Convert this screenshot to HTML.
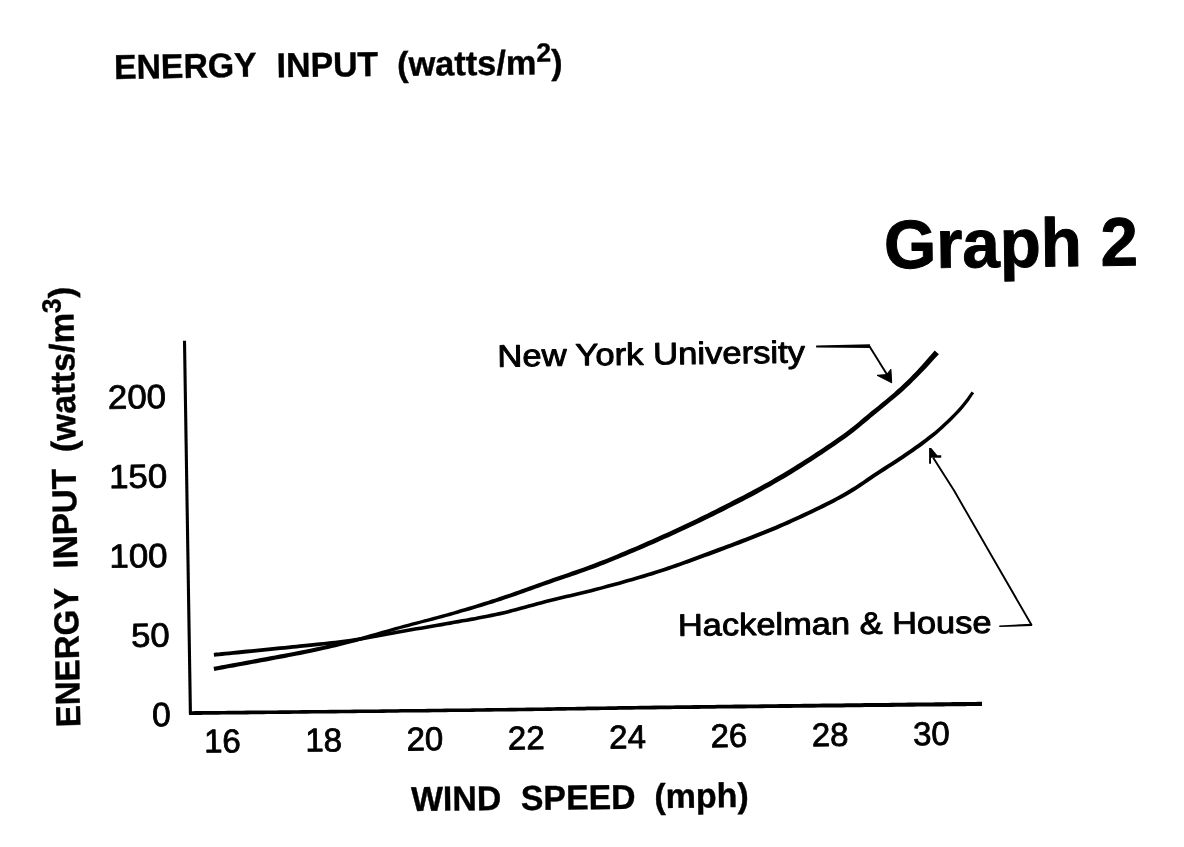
<!DOCTYPE html>
<html><head><meta charset="utf-8"><title>Graph 2</title>
<style>
html,body{margin:0;padding:0;background:#fff;}
svg{display:block;}
text{font-family:"Liberation Sans", Arial, Helvetica, sans-serif;fill:#000;}
</style></head><body>
<svg width="1184" height="847" viewBox="0 0 1184 847">
<rect width="1184" height="847" fill="#fff"/>
<path d="M184.5 340.7 L190.4 713" fill="none" stroke="#000" stroke-width="3.1"/>
<path d="M188.9 715.0 L191.0 715.0 L193.2 715.0 L195.5 714.9 L197.9 714.9 L200.5 714.9 L203.2 714.8 L205.9 714.8 L208.8 714.8 L211.8 714.7 L214.9 714.7 L218.1 714.7 L221.4 714.6 L224.8 714.6 L228.3 714.6 L231.8 714.5 L235.4 714.5 L239.2 714.4 L243.0 714.4 L246.8 714.4 L250.8 714.3 L254.8 714.3 L258.9 714.2 L263.0 714.2 L267.2 714.1 L271.5 714.1 L275.8 714.0 L280.1 714.0 L284.5 713.9 L289.0 713.9 L293.5 713.8 L298.0 713.8 L302.6 713.7 L307.2 713.7 L311.8 713.6 L316.5 713.6 L321.2 713.5 L325.9 713.5 L330.6 713.4 L335.3 713.4 L340.1 713.3 L344.8 713.3 L349.6 713.2 L354.3 713.2 L359.1 713.1 L363.8 713.1 L368.6 713.0 L373.3 713.0 L378.1 712.9 L382.8 712.9 L387.5 712.8 L392.1 712.7 L396.8 712.7 L401.4 712.6 L406.0 712.6 L410.6 712.5 L415.1 712.5 L419.6 712.5 L424.0 712.4 L428.4 712.4 L432.7 712.3 L437.0 712.3 L441.3 712.2 L445.4 712.2 L449.6 712.1 L453.6 712.1 L457.6 712.1 L461.5 712.0 L465.4 712.0 L469.1 711.9 L472.8 711.9 L476.5 711.8 L480.0 711.8 L483.4 711.8 L486.8 711.7 L490.0 711.7 L495.3 711.6 L500.4 711.6 L505.3 711.5 L510.0 711.5 L514.6 711.4 L519.1 711.3 L523.4 711.3 L527.6 711.2 L531.7 711.2 L535.6 711.1 L539.5 711.1 L543.3 711.0 L547.0 711.0 L550.6 710.9 L554.1 710.8 L557.6 710.8 L561.0 710.7 L564.4 710.7 L567.8 710.6 L571.1 710.6 L574.4 710.5 L577.7 710.5 L581.0 710.4 L584.3 710.4 L587.6 710.3 L591.0 710.3 L594.3 710.2 L597.8 710.2 L601.2 710.1 L604.7 710.1 L608.3 710.0 L612.0 709.9 L615.7 709.9 L619.6 709.8 L623.5 709.8 L627.5 709.7 L631.7 709.7 L635.9 709.6 L640.3 709.6 L644.9 709.5 L649.6 709.4 L654.4 709.4 L659.5 709.3 L664.7 709.2 L670.0 709.2 L673.2 709.1 L676.5 709.1 L679.9 709.1 L683.4 709.0 L686.9 709.0 L690.5 709.0 L694.3 708.9 L698.0 708.9 L701.9 708.8 L705.8 708.8 L709.8 708.7 L713.9 708.7 L718.0 708.6 L722.2 708.6 L726.4 708.6 L730.7 708.5 L735.0 708.5 L739.4 708.4 L743.8 708.4 L748.3 708.3 L752.8 708.3 L757.3 708.2 L761.9 708.2 L766.5 708.1 L771.1 708.1 L775.8 708.0 L780.5 708.0 L785.2 707.9 L789.9 707.9 L794.6 707.8 L799.3 707.8 L804.1 707.7 L808.8 707.7 L813.6 707.7 L818.3 707.6 L823.1 707.6 L827.8 707.5 L832.6 707.5 L837.3 707.4 L842.0 707.4 L846.7 707.3 L851.3 707.3 L856.0 707.2 L860.6 707.2 L865.2 707.1 L869.7 707.1 L874.3 707.1 L878.7 707.0 L883.2 707.0 L887.6 706.9 L891.9 706.9 L896.2 706.8 L900.5 706.8 L904.7 706.8 L908.8 706.7 L912.9 706.7 L917.0 706.6 L920.9 706.6 L924.8 706.6 L928.6 706.5 L932.4 706.5 L936.0 706.5 L939.6 706.4 L943.1 706.4 L946.5 706.3 L949.9 706.3 L953.1 706.3 L956.3 706.3 L959.3 706.2 L962.3 706.2 L965.1 706.2 L967.9 706.1 L970.5 706.1 L973.1 706.1 L975.5 706.1 L977.8 706.0 L980.0 706.0 L982.0 706.0 L982.0 701.8 L979.9 701.8 L977.7 701.8 L975.4 701.9 L973.0 701.9 L970.5 701.9 L967.8 702.0 L965.1 702.0 L962.2 702.0 L959.3 702.1 L956.2 702.1 L953.1 702.1 L949.8 702.2 L946.5 702.2 L943.1 702.2 L939.6 702.3 L936.0 702.3 L932.3 702.4 L928.6 702.4 L924.8 702.5 L920.9 702.5 L916.9 702.5 L912.9 702.6 L908.8 702.6 L904.7 702.7 L900.5 702.7 L896.2 702.8 L891.9 702.8 L887.5 702.9 L883.1 702.9 L878.7 703.0 L874.2 703.0 L869.7 703.1 L865.1 703.1 L860.5 703.2 L855.9 703.2 L851.3 703.3 L846.6 703.3 L841.9 703.4 L837.2 703.5 L832.5 703.5 L827.8 703.6 L823.0 703.6 L818.3 703.7 L813.5 703.7 L808.8 703.8 L804.0 703.8 L799.3 703.9 L794.6 703.9 L789.8 704.0 L785.1 704.1 L780.4 704.1 L775.8 704.2 L771.1 704.2 L766.5 704.3 L761.9 704.3 L757.3 704.4 L752.8 704.4 L748.2 704.5 L743.8 704.5 L739.4 704.6 L735.0 704.6 L730.6 704.7 L726.4 704.7 L722.1 704.8 L718.0 704.8 L713.8 704.9 L709.8 704.9 L705.8 705.0 L701.9 705.0 L698.0 705.1 L694.2 705.1 L690.5 705.2 L686.9 705.2 L683.3 705.2 L679.9 705.3 L676.5 705.3 L673.2 705.4 L670.0 705.4 L664.6 705.5 L659.4 705.6 L654.4 705.6 L649.5 705.7 L644.8 705.7 L640.3 705.8 L635.9 705.9 L631.6 705.9 L627.5 706.0 L623.4 706.1 L619.5 706.1 L615.7 706.2 L611.9 706.2 L608.3 706.3 L604.7 706.4 L601.2 706.4 L597.7 706.5 L594.3 706.5 L590.9 706.6 L587.6 706.6 L584.2 706.7 L580.9 706.7 L577.6 706.8 L574.3 706.9 L571.0 706.9 L567.7 707.0 L564.4 707.0 L561.0 707.1 L557.5 707.1 L554.1 707.2 L550.5 707.2 L546.9 707.3 L543.2 707.4 L539.4 707.4 L535.6 707.5 L531.6 707.5 L527.5 707.6 L523.3 707.7 L519.0 707.7 L514.6 707.8 L510.0 707.8 L505.2 707.9 L500.3 708.0 L495.2 708.0 L490.0 708.1 L486.7 708.1 L483.4 708.2 L479.9 708.2 L476.4 708.3 L472.8 708.3 L469.1 708.4 L465.3 708.4 L461.5 708.5 L457.6 708.5 L453.6 708.5 L449.5 708.6 L445.4 708.6 L441.2 708.7 L437.0 708.7 L432.7 708.8 L428.3 708.8 L424.0 708.9 L419.5 708.9 L415.0 709.0 L410.5 709.0 L406.0 709.1 L401.4 709.1 L396.8 709.2 L392.1 709.2 L387.4 709.3 L382.7 709.3 L378.0 709.4 L373.3 709.4 L368.6 709.5 L363.8 709.5 L359.1 709.6 L354.3 709.6 L349.5 709.7 L344.8 709.7 L340.0 709.7 L335.3 709.8 L330.5 709.8 L325.8 709.9 L321.1 709.9 L316.4 710.0 L311.8 710.0 L307.2 710.1 L302.6 710.1 L298.0 710.2 L293.5 710.2 L289.0 710.2 L284.5 710.3 L280.1 710.3 L275.7 710.4 L271.4 710.4 L267.2 710.4 L263.0 710.5 L258.8 710.5 L254.8 710.6 L250.7 710.6 L246.8 710.6 L242.9 710.7 L239.1 710.7 L235.4 710.8 L231.8 710.8 L228.2 710.8 L224.7 710.9 L221.4 710.9 L218.1 710.9 L214.9 710.9 L211.8 711.0 L208.8 711.0 L205.9 711.0 L203.1 711.1 L200.5 711.1 L197.9 711.1 L195.5 711.1 L193.1 711.2 L191.0 711.2 L188.9 711.2Z" fill="#000"/>
<path d="M214.3 671.0 L216.6 670.5 L219.3 670.0 L222.4 669.5 L225.8 668.8 L229.6 668.1 L233.6 667.4 L237.9 666.6 L242.4 665.8 L247.0 664.9 L251.8 664.1 L256.6 663.2 L261.4 662.3 L266.3 661.4 L271.1 660.5 L275.9 659.6 L280.5 658.7 L284.9 657.9 L289.2 657.1 L293.2 656.3 L297.0 655.5 L300.4 654.9 L305.9 653.7 L310.9 652.7 L315.6 651.7 L320.0 650.7 L324.1 649.8 L328.1 648.9 L331.9 648.1 L335.7 647.2 L339.4 646.3 L343.2 645.3 L347.1 644.3 L351.2 643.3 L355.3 642.2 L359.5 641.1 L363.6 639.9 L367.7 638.7 L371.8 637.5 L375.9 636.3 L380.0 635.1 L384.0 633.9 L388.1 632.6 L392.2 631.4 L396.3 630.3 L400.4 629.1 L404.6 628.0 L408.7 626.9 L412.9 625.8 L417.0 624.7 L421.2 623.6 L425.4 622.6 L429.6 621.5 L433.7 620.4 L437.9 619.3 L442.1 618.2 L446.3 617.1 L450.5 615.9 L454.3 614.8 L458.2 613.7 L462.0 612.6 L465.9 611.5 L469.8 610.4 L473.6 609.2 L477.5 608.1 L481.3 606.9 L485.2 605.8 L489.0 604.6 L492.9 603.4 L496.8 602.1 L500.6 600.9 L504.5 599.6 L508.3 598.3 L512.2 597.0 L516.1 595.7 L519.9 594.3 L523.8 593.0 L527.6 591.6 L531.5 590.2 L535.3 588.8 L539.2 587.5 L543.0 586.1 L546.9 584.7 L550.7 583.4 L554.5 582.1 L558.3 580.8 L562.0 579.5 L565.7 578.2 L569.5 577.0 L573.2 575.7 L577.0 574.4 L580.8 573.1 L584.6 571.8 L588.5 570.3 L592.5 568.9 L596.6 567.4 L600.8 565.8 L604.3 564.4 L607.8 563.0 L611.5 561.5 L615.1 560.0 L618.9 558.5 L622.6 557.0 L626.4 555.4 L630.3 553.8 L634.1 552.2 L638.0 550.5 L641.8 548.9 L645.7 547.2 L649.5 545.5 L653.4 543.9 L657.2 542.2 L660.9 540.5 L664.7 538.8 L668.5 537.2 L672.2 535.5 L676.0 533.7 L679.7 532.0 L683.5 530.3 L687.3 528.5 L691.0 526.8 L694.8 525.0 L698.5 523.2 L702.3 521.4 L706.1 519.6 L709.8 517.8 L713.6 515.9 L717.3 514.1 L721.1 512.2 L724.6 510.4 L728.2 508.6 L731.7 506.8 L735.2 505.0 L738.8 503.2 L742.3 501.4 L745.9 499.6 L749.4 497.7 L752.9 495.9 L756.5 494.0 L760.0 492.1 L763.5 490.1 L767.1 488.1 L770.6 486.2 L774.2 484.1 L777.7 482.1 L781.2 480.0 L784.8 477.9 L788.5 475.7 L792.2 473.4 L796.0 471.0 L799.8 468.7 L803.6 466.2 L807.4 463.8 L811.1 461.4 L814.9 459.0 L818.6 456.5 L822.2 454.2 L825.7 451.8 L829.1 449.5 L832.4 447.3 L835.5 445.2 L838.5 443.1 L841.4 441.1 L845.8 438.0 L849.8 435.0 L853.4 432.2 L856.8 429.6 L859.9 427.0 L862.8 424.6 L865.6 422.2 L868.4 419.9 L871.1 417.5 L874.0 415.2 L877.6 412.3 L881.0 409.5 L884.4 406.7 L887.7 404.0 L890.9 401.3 L894.0 398.8 L897.0 396.2 L900.0 393.7 L903.6 390.4 L907.0 387.3 L910.3 384.2 L913.4 381.1 L916.5 378.0 L919.7 374.8 L922.6 371.8 L925.8 368.4 L929.0 365.0 L932.1 361.6 L934.8 358.6 L937.2 356.0 L938.9 354.2 L934.7 350.4 L933.0 352.4 L930.8 355.0 L928.1 358.1 L925.1 361.5 L922.0 365.0 L919.0 368.3 L916.1 371.4 L913.0 374.6 L910.0 377.7 L906.9 380.7 L903.7 383.8 L900.4 386.9 L896.8 390.1 L894.0 392.7 L891.0 395.2 L888.0 397.8 L884.8 400.4 L881.5 403.1 L878.1 405.9 L874.6 408.7 L871.0 411.6 L868.2 414.0 L865.4 416.3 L862.6 418.6 L859.8 421.0 L856.9 423.4 L853.8 425.9 L850.5 428.5 L847.0 431.3 L843.0 434.2 L838.6 437.3 L835.8 439.2 L832.9 441.3 L829.7 443.4 L826.5 445.6 L823.0 447.9 L819.5 450.2 L815.9 452.5 L812.3 454.9 L808.5 457.4 L804.8 459.8 L801.0 462.2 L797.2 464.6 L793.4 466.9 L789.7 469.2 L786.0 471.5 L782.3 473.7 L778.8 475.8 L775.2 477.8 L771.7 479.9 L768.2 481.9 L764.7 483.8 L761.2 485.8 L757.6 487.7 L754.1 489.6 L750.6 491.5 L747.1 493.3 L743.6 495.2 L740.0 497.0 L736.5 498.8 L733.0 500.6 L729.5 502.4 L725.9 504.2 L722.4 506.0 L718.9 507.8 L715.2 509.7 L711.4 511.6 L707.7 513.4 L703.9 515.3 L700.2 517.1 L696.5 518.9 L692.7 520.7 L689.0 522.5 L685.2 524.2 L681.5 526.0 L677.8 527.7 L674.0 529.5 L670.3 531.2 L666.5 532.9 L662.8 534.6 L659.1 536.3 L655.3 538.0 L651.5 539.7 L647.7 541.3 L643.9 543.0 L640.0 544.7 L636.2 546.4 L632.3 548.0 L628.5 549.6 L624.7 551.2 L620.9 552.8 L617.2 554.4 L613.5 555.9 L609.8 557.4 L606.2 558.9 L602.7 560.3 L599.2 561.6 L595.0 563.3 L591.0 564.8 L587.0 566.3 L583.1 567.7 L579.3 569.0 L575.6 570.3 L571.8 571.6 L568.1 572.9 L564.4 574.2 L560.6 575.5 L556.9 576.8 L553.1 578.1 L549.3 579.4 L545.5 580.8 L541.6 582.2 L537.8 583.6 L533.9 585.0 L530.1 586.3 L526.2 587.7 L522.4 589.1 L518.6 590.5 L514.7 591.8 L510.9 593.2 L507.0 594.5 L503.2 595.8 L499.4 597.1 L495.5 598.4 L491.7 599.6 L487.9 600.9 L484.0 602.1 L480.2 603.3 L476.4 604.5 L472.5 605.7 L468.7 606.8 L464.9 608.0 L461.0 609.1 L457.2 610.3 L453.4 611.4 L449.5 612.5 L445.4 613.7 L441.2 614.8 L437.0 616.0 L432.9 617.1 L428.7 618.2 L424.5 619.3 L420.4 620.4 L416.2 621.5 L412.0 622.6 L407.9 623.7 L403.7 624.8 L399.6 625.9 L395.4 627.0 L391.3 628.2 L387.2 629.4 L383.1 630.6 L379.0 631.8 L374.9 633.0 L370.8 634.1 L366.7 635.3 L362.6 636.5 L358.5 637.6 L354.4 638.7 L350.2 639.7 L346.2 640.7 L342.3 641.7 L338.5 642.5 L334.8 643.4 L331.0 644.3 L327.2 645.1 L323.3 646.0 L319.2 646.8 L314.8 647.7 L310.1 648.7 L305.1 649.7 L299.6 650.7 L296.2 651.4 L292.4 652.2 L288.4 652.9 L284.2 653.7 L279.7 654.6 L275.1 655.5 L270.3 656.3 L265.5 657.2 L260.7 658.1 L255.8 659.0 L251.0 659.9 L246.3 660.8 L241.6 661.7 L237.2 662.5 L232.9 663.3 L228.8 664.0 L225.1 664.7 L221.6 665.3 L218.5 665.9 L215.8 666.4 L213.5 666.8Z" fill="#000"/>
<path d="M214.1 656.7 L216.4 656.5 L219.1 656.2 L222.2 655.9 L225.6 655.6 L229.4 655.2 L233.4 654.8 L237.7 654.4 L242.2 653.9 L246.8 653.5 L251.6 653.0 L256.4 652.5 L261.2 652.0 L266.1 651.6 L270.9 651.1 L275.7 650.6 L280.3 650.1 L284.7 649.7 L289.0 649.2 L293.0 648.8 L296.8 648.4 L300.2 648.1 L305.7 647.5 L310.7 647.0 L315.4 646.5 L319.8 646.1 L323.9 645.6 L327.8 645.2 L331.7 644.8 L335.4 644.4 L339.2 643.9 L343.0 643.4 L346.9 642.9 L351.0 642.3 L355.1 641.7 L359.3 641.0 L363.4 640.3 L367.5 639.6 L371.6 638.8 L375.7 638.1 L379.8 637.3 L383.9 636.5 L388.0 635.7 L392.1 635.0 L396.2 634.2 L400.3 633.5 L404.4 632.8 L408.6 632.0 L412.8 631.3 L416.9 630.6 L421.1 629.9 L425.3 629.2 L429.4 628.5 L433.6 627.8 L437.8 627.1 L442.0 626.4 L446.1 625.6 L450.3 624.9 L454.5 624.1 L458.6 623.4 L462.8 622.6 L467.0 621.9 L471.2 621.2 L475.3 620.4 L479.5 619.6 L483.7 618.8 L487.9 618.0 L492.0 617.2 L496.2 616.3 L500.4 615.4 L504.6 614.4 L508.8 613.4 L512.9 612.3 L517.1 611.2 L521.3 610.1 L525.5 608.9 L529.6 607.8 L533.8 606.7 L538.0 605.5 L542.1 604.4 L546.3 603.3 L550.4 602.2 L554.6 601.2 L558.6 600.2 L562.7 599.3 L566.7 598.3 L570.7 597.4 L574.8 596.5 L578.9 595.5 L583.0 594.5 L587.2 593.5 L591.5 592.5 L595.9 591.3 L600.5 590.1 L604.2 589.1 L608.0 588.1 L611.8 587.1 L615.8 586.0 L619.8 584.9 L623.8 583.8 L627.8 582.6 L631.9 581.5 L636.0 580.3 L640.2 579.1 L644.3 577.9 L648.4 576.6 L652.5 575.4 L656.6 574.1 L660.6 572.8 L664.6 571.5 L668.6 570.2 L672.6 568.8 L676.6 567.4 L680.6 566.0 L684.7 564.6 L688.7 563.2 L692.7 561.7 L696.7 560.3 L700.7 558.8 L704.7 557.3 L708.7 555.9 L712.7 554.4 L716.7 552.9 L720.7 551.4 L724.5 550.0 L728.2 548.6 L732.0 547.2 L735.7 545.8 L739.5 544.4 L743.2 542.9 L747.0 541.5 L750.7 540.1 L754.5 538.6 L758.3 537.1 L762.0 535.6 L765.8 534.1 L769.5 532.5 L773.3 531.0 L777.0 529.4 L780.8 527.7 L784.6 526.1 L788.5 524.4 L792.4 522.6 L796.3 520.8 L800.3 519.0 L804.2 517.2 L808.2 515.3 L812.1 513.5 L816.0 511.6 L819.8 509.7 L823.6 507.9 L827.3 506.0 L830.9 504.2 L834.4 502.4 L837.7 500.6 L840.9 498.9 L845.4 496.4 L849.7 493.9 L853.8 491.4 L857.7 488.9 L861.4 486.5 L865.0 484.1 L868.4 481.7 L871.7 479.5 L874.9 477.3 L878.0 475.2 L881.1 473.2 L885.5 470.4 L889.5 467.8 L893.2 465.5 L896.7 463.3 L900.1 461.0 L903.5 458.8 L907.1 456.3 L910.4 454.0 L913.8 451.7 L917.1 449.3 L920.5 446.9 L923.8 444.4 L927.0 442.0 L930.1 439.6 L933.1 437.3 L936.8 434.2 L940.3 431.1 L943.7 428.1 L946.8 425.1 L949.8 422.3 L952.6 419.5 L956.4 415.6 L959.8 411.9 L962.9 408.4 L965.7 405.0 L969.2 400.4 L972.1 396.1 L974.2 393.2 L971.6 391.4 L969.6 394.3 L966.6 398.5 L963.1 403.0 L960.4 406.2 L957.3 409.7 L954.0 413.3 L950.2 417.1 L947.4 419.7 L944.4 422.5 L941.2 425.4 L937.9 428.4 L934.4 431.4 L930.7 434.3 L927.8 436.6 L924.7 438.9 L921.5 441.3 L918.2 443.7 L914.9 446.1 L911.5 448.5 L908.2 450.8 L904.9 453.1 L901.3 455.5 L897.9 457.8 L894.5 460.0 L891.1 462.2 L887.4 464.6 L883.4 467.1 L878.9 470.0 L875.9 472.0 L872.8 474.1 L869.5 476.3 L866.2 478.5 L862.8 480.9 L859.2 483.2 L855.6 485.7 L851.7 488.1 L847.7 490.6 L843.5 493.0 L839.1 495.5 L835.9 497.2 L832.6 498.9 L829.1 500.7 L825.5 502.5 L821.9 504.3 L818.1 506.2 L814.3 508.0 L810.4 509.9 L806.5 511.7 L802.5 513.6 L798.6 515.4 L794.6 517.2 L790.7 519.0 L786.8 520.7 L783.0 522.4 L779.2 524.1 L775.5 525.7 L771.7 527.2 L768.0 528.8 L764.2 530.3 L760.5 531.8 L756.7 533.3 L753.0 534.8 L749.3 536.2 L745.5 537.7 L741.8 539.1 L738.0 540.6 L734.3 542.0 L730.5 543.4 L726.8 544.8 L723.0 546.2 L719.3 547.6 L715.3 549.1 L711.3 550.6 L707.3 552.1 L703.3 553.6 L699.3 555.1 L695.3 556.6 L691.3 558.1 L687.3 559.5 L683.3 561.0 L679.4 562.4 L675.4 563.8 L671.4 565.2 L667.4 566.5 L663.4 567.9 L659.4 569.2 L655.4 570.5 L651.4 571.8 L647.3 573.0 L643.2 574.3 L639.1 575.5 L635.0 576.7 L630.9 577.9 L626.8 579.1 L622.8 580.2 L618.8 581.4 L614.8 582.5 L610.9 583.6 L607.0 584.6 L603.2 585.7 L599.5 586.7 L595.0 587.8 L590.6 589.0 L586.4 590.0 L582.2 591.0 L578.0 592.0 L574.0 593.0 L569.9 593.9 L565.9 594.8 L561.9 595.8 L557.8 596.7 L553.7 597.7 L549.6 598.8 L545.4 599.8 L541.2 600.9 L537.0 602.1 L532.9 603.2 L528.7 604.3 L524.5 605.5 L520.4 606.6 L516.2 607.7 L512.1 608.8 L507.9 609.9 L503.7 610.9 L499.6 611.8 L495.5 612.8 L491.3 613.6 L487.1 614.5 L483.0 615.3 L478.8 616.1 L474.7 616.9 L470.5 617.6 L466.4 618.4 L462.2 619.1 L458.0 619.8 L453.8 620.6 L449.7 621.3 L445.5 622.1 L441.3 622.8 L437.2 623.5 L433.0 624.3 L428.8 625.0 L424.7 625.7 L420.5 626.4 L416.3 627.1 L412.1 627.8 L408.0 628.5 L403.8 629.2 L399.7 629.9 L395.6 630.7 L391.4 631.4 L387.3 632.2 L383.2 632.9 L379.1 633.7 L375.1 634.5 L371.0 635.2 L366.9 636.0 L362.8 636.7 L358.7 637.4 L354.6 638.1 L350.4 638.7 L346.4 639.2 L342.5 639.8 L338.7 640.2 L335.0 640.7 L331.3 641.1 L327.5 641.5 L323.5 641.9 L319.4 642.3 L315.0 642.8 L310.3 643.2 L305.3 643.7 L299.8 644.3 L296.4 644.7 L292.6 645.0 L288.6 645.5 L284.4 645.9 L279.9 646.3 L275.3 646.8 L270.5 647.3 L265.7 647.7 L260.9 648.2 L256.0 648.7 L251.2 649.2 L246.4 649.6 L241.8 650.1 L237.3 650.5 L233.1 651.0 L229.0 651.4 L225.3 651.7 L221.8 652.1 L218.7 652.4 L216.0 652.6 L213.7 652.9Z" fill="#000"/>
<path d="M816.1 345.4 L869.9 344.3 L870.6 347.9 L816.1 347.5 Z" fill="#000"/>
<path d="M869.6 346.6 L887.6 375.6" fill="none" stroke="#000" stroke-width="1.9"/>
<path d="M877 375.3 L891.7 382.8 L890.9 369.2 L886.6 374.6 Z" fill="#000" stroke="#000" stroke-width="1.0" stroke-linejoin="round"/>
<path d="M999.3 625.6 L1031.5 623.7 L1032.3 626.0 L999.3 626.9 Z" fill="#000"/>
<path d="M933.2 457.7 L953.9 490.3 L999.8 570 L1031.7 625.2" fill="none" stroke="#000" stroke-width="1.9" stroke-linejoin="round"/>
<path d="M929.1 448.1 L931.2 448.1 L937.3 455.2 L941.2 455.2 L941.2 457.7 L931.0 457.7 L931.0 463.7 L929.1 463.7 Z" fill="#000"/>
<text x="114.2" y="79.1" font-size="34.5" font-weight="bold" textLength="142.7" lengthAdjust="spacingAndGlyphs" transform="rotate(-1.00 114.2 79.1)" stroke="#000" stroke-width="0.40" stroke-linejoin="round">ENERGY</text>
<text x="276.8" y="77.2" font-size="34.5" font-weight="bold" textLength="101.5" lengthAdjust="spacingAndGlyphs" transform="rotate(-0.70 276.8 77.2)" stroke="#000" stroke-width="0.40" stroke-linejoin="round">INPUT</text>
<text x="397.2" y="76.0" font-size="34.5" font-weight="bold" textLength="165.5" lengthAdjust="spacingAndGlyphs" transform="rotate(-0.70 397.2 76.0)" stroke="#000" stroke-width="0.40" stroke-linejoin="round">(watts/m<tspan font-size="26.5" dy="-12.5">2</tspan><tspan dy="12.5">)</tspan></text>
<text x="884.2" y="268.3" font-size="68.5" font-weight="bold" textLength="254.0" lengthAdjust="spacingAndGlyphs" transform="rotate(-0.65 884.2 268.3)" stroke="#000" stroke-width="1.00" stroke-linejoin="round">Graph 2</text>
<text x="497.4" y="366.7" font-size="31.0" textLength="307.8" lengthAdjust="spacingAndGlyphs" transform="rotate(-0.78 497.4 366.7)" stroke="#000" stroke-width="0.95" stroke-linejoin="round">New York University</text>
<text x="678.0" y="635.7" font-size="31.0" textLength="313.6" lengthAdjust="spacingAndGlyphs" transform="rotate(-0.52 678.0 635.7)" stroke="#000" stroke-width="0.95" stroke-linejoin="round">Hackelman &amp; House</text>
<text x="411.2" y="810.9" font-size="34.5" font-weight="bold" textLength="90.2" lengthAdjust="spacingAndGlyphs" transform="rotate(-0.60 411.2 810.9)" stroke="#000" stroke-width="0.40" stroke-linejoin="round">WIND</text>
<text x="521.1" y="810.0" font-size="34.5" font-weight="bold" textLength="114.5" lengthAdjust="spacingAndGlyphs" transform="rotate(-0.60 521.1 810.0)" stroke="#000" stroke-width="0.40" stroke-linejoin="round">SPEED</text>
<text x="654.4" y="808.0" font-size="34.5" font-weight="bold" textLength="94.5" lengthAdjust="spacingAndGlyphs" transform="rotate(-0.60 654.4 808.0)" stroke="#000" stroke-width="0.40" stroke-linejoin="round">(mph)</text>
<text x="80.2" y="727.0" font-size="34.5" font-weight="bold" textLength="139.5" lengthAdjust="spacingAndGlyphs" transform="rotate(-91.00 80.2 727.0)" stroke="#000" stroke-width="0.40" stroke-linejoin="round">ENERGY</text>
<text x="77.4" y="568.2" font-size="34.5" font-weight="bold" textLength="99.5" lengthAdjust="spacingAndGlyphs" transform="rotate(-91.00 77.4 568.2)" stroke="#000" stroke-width="0.40" stroke-linejoin="round">INPUT</text>
<text x="75.8" y="452.0" font-size="34.5" font-weight="bold" textLength="165.5" lengthAdjust="spacingAndGlyphs" transform="rotate(-91.00 75.8 452.0)" stroke="#000" stroke-width="0.40" stroke-linejoin="round">(watts/m<tspan font-size="26.5" dy="-12.5">3</tspan><tspan dy="12.5">)</tspan></text>
<text x="166.2" y="408.0" font-size="33.5" textLength="58.2" lengthAdjust="spacingAndGlyphs" transform="rotate(-0.80 166.2 408.0)" stroke="#000" stroke-width="0.80" stroke-linejoin="round" text-anchor="end">200</text>
<text x="167.4" y="487.5" font-size="33.5" textLength="58.2" lengthAdjust="spacingAndGlyphs" transform="rotate(-0.80 167.4 487.5)" stroke="#000" stroke-width="0.80" stroke-linejoin="round" text-anchor="end">150</text>
<text x="167.7" y="567.0" font-size="33.5" textLength="58.2" lengthAdjust="spacingAndGlyphs" transform="rotate(-0.80 167.7 567.0)" stroke="#000" stroke-width="0.80" stroke-linejoin="round" text-anchor="end">100</text>
<text x="169.8" y="646.5" font-size="33.5" textLength="38.6" lengthAdjust="spacingAndGlyphs" transform="rotate(-0.80 169.8 646.5)" stroke="#000" stroke-width="0.80" stroke-linejoin="round" text-anchor="end">50</text>
<text x="171.0" y="726.0" font-size="33.5" transform="rotate(-0.80 171.0 726.0)" stroke="#000" stroke-width="0.80" stroke-linejoin="round" text-anchor="end">0</text>
<text x="222.5" y="752.4" font-size="33.0" transform="rotate(-0.70 222.5 752.4)" stroke="#000" stroke-width="0.80" stroke-linejoin="round" text-anchor="middle">16</text>
<text x="323.8" y="751.4" font-size="33.0" transform="rotate(-0.70 323.8 751.4)" stroke="#000" stroke-width="0.80" stroke-linejoin="round" text-anchor="middle">18</text>
<text x="425.1" y="750.3" font-size="33.0" transform="rotate(-0.70 425.1 750.3)" stroke="#000" stroke-width="0.80" stroke-linejoin="round" text-anchor="middle">20</text>
<text x="526.4" y="749.2" font-size="33.0" transform="rotate(-0.70 526.4 749.2)" stroke="#000" stroke-width="0.80" stroke-linejoin="round" text-anchor="middle">22</text>
<text x="627.7" y="748.2" font-size="33.0" transform="rotate(-0.70 627.7 748.2)" stroke="#000" stroke-width="0.80" stroke-linejoin="round" text-anchor="middle">24</text>
<text x="729.0" y="747.1" font-size="33.0" transform="rotate(-0.70 729.0 747.1)" stroke="#000" stroke-width="0.80" stroke-linejoin="round" text-anchor="middle">26</text>
<text x="830.3" y="746.1" font-size="33.0" transform="rotate(-0.70 830.3 746.1)" stroke="#000" stroke-width="0.80" stroke-linejoin="round" text-anchor="middle">28</text>
<text x="931.6" y="745.0" font-size="33.0" transform="rotate(-0.70 931.6 745.0)" stroke="#000" stroke-width="0.80" stroke-linejoin="round" text-anchor="middle">30</text>
</svg>
</body></html>
